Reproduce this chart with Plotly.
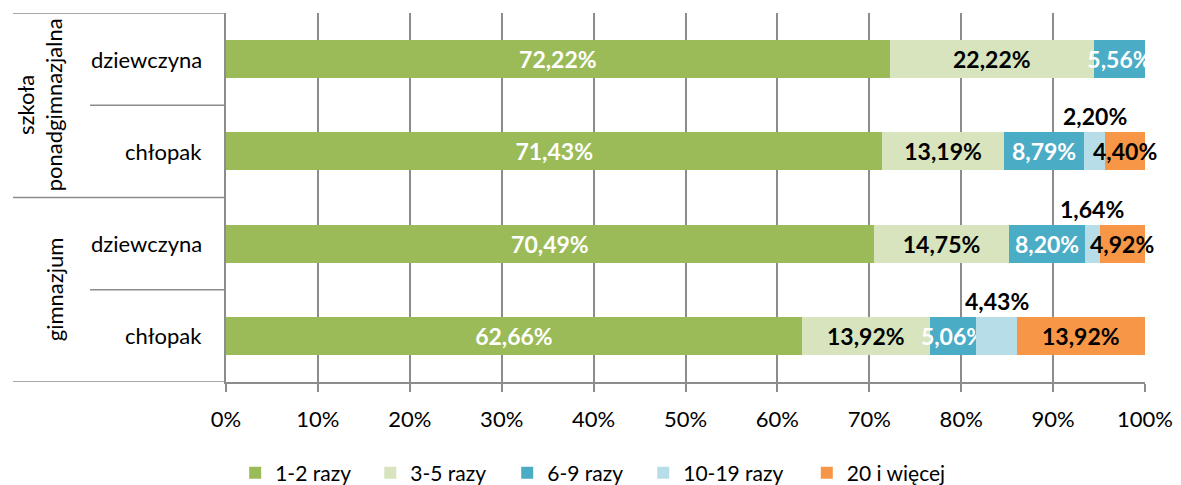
import plotly.graph_objects as go

# ---- data (bottom row first) ----
groups = ["gimnazjum", "gimnazjum", "szkoła<br>ponadgimnazjalna", "szkoła<br>ponadgimnazjalna"]
genders = ["chłopak", "dziewczyna", "chłopak", "dziewczyna"]
series_names = ["1-2 razy", "3-5 razy", "6-9 razy", "10-19 razy", "20 i więcej"]
v_1_2 = [62.66, 70.49, 71.43, 72.22]
v_3_5 = [13.92, 14.75, 13.19, 22.22]
v_6_9 = [5.06, 8.20, 8.79, 5.56]
v_10_19 = [4.43, 1.64, 2.20, 0.0]
v_20 = [13.92, 4.92, 4.40, 0.0]
x_ticks = [0, 10, 20, 30, 40, 50, 60, 70, 80, 90, 100]

colors = ["#9BBB59", "#D7E4BD", "#4BACC6", "#B7DEE8", "#F79646"]
text_colors = ["white", "black", "white", "black", "black"]
FONT = "Lato, 'Open Sans', sans-serif"
FS = 22
FSB = 23

# legend entry left edges (paper fraction of plot width)
legend_x = [0.010, 0.157, 0.306, 0.454, 0.632]
legend_ids = ["legend", "legend2", "legend3", "legend4", "legend5"]

cats = [f"{g}|{s}" for g, s in zip(groups, genders)]
values = [v_1_2, v_3_5, v_6_9, v_10_19, v_20]

def fmt(v):
    return ("%.2f%%" % v).replace(".", ",")

fig = go.Figure()
for i, (name, vals) in enumerate(zip(series_names, values)):
    if i in (3, 4):
        texts = ["" for v in vals]  # drawn as annotations below
    else:
        texts = [fmt(v) if v > 0 else "" for v in vals]
    fig.add_trace(go.Bar(
        y=cats, x=vals, name=name, orientation="h", legend=legend_ids[i],
        marker=dict(color=colors[i], line=dict(width=0)),
        text=texts, textposition="inside", insidetextanchor="middle",
        textangle=0, constraintext="none", cliponaxis=False,
        textfont=dict(family=FONT, size=FSB, color=text_colors[i], weight="bold"),
        hoverinfo="skip",
    ))

# 10-19 labels above the bars, 20+ labels centred on their segments
for j, c in enumerate(cats):
    start = v_1_2[j] + v_3_5[j] + v_6_9[j]
    v = v_10_19[j]
    if v > 0:
        fig.add_annotation(x=start + v / 2, y=c, xref="x", yref="y",
                           text=fmt(v), showarrow=False, yshift=35,
                           font=dict(family=FONT, size=FSB, color="black", weight="bold"))
    w = v_20[j]
    if w > 0:
        s2 = start + v
        fig.add_annotation(x=s2 + w / 2, y=c, xref="x", yref="y",
                           text=fmt(w), showarrow=False,
                           font=dict(family=FONT, size=FSB, color=text_colors[4], weight="bold"))

# gender labels
for j, c in enumerate(cats):
    fig.add_annotation(x=0, y=c, xref="paper", yref="y", xanchor="right", xshift=-22,
                       text=genders[j], showarrow=False,
                       font=dict(family=FONT, size=FS, color="black"))

# group labels
uniq = []
for g in groups:
    if g not in uniq:
        uniq.append(g)
for g in uniq:
    idx = [k for k, gg in enumerate(groups) if gg == g]
    ymid = sum(idx) / len(idx)
    fig.add_annotation(x=0, y=ymid, xref="paper", yref="y", xanchor="right",
                       xshift=-156, text=g, textangle=-90, showarrow=False,
                       font=dict(family=FONT, size=FS, color="black"))

# divider lines in label area
line_col = "#8C8C8C"
n = len(cats)
for b in range(n + 1):
    yb = b - 0.5
    is_outer = (b == 0 or b == n or (0 < b < n and groups[b] != groups[b - 1]))
    x0 = -213 if is_outer else -136
    fig.add_shape(type="line", xref="paper", yref="y", xsizemode="pixel", xanchor=0,
                  x0=x0, x1=0, y0=yb, y1=yb, line=dict(color=line_col, width=1.5))

legend_layout = {}
for lid, lx in zip(legend_ids, legend_x):
    legend_layout[lid] = dict(orientation="h", x=lx, xanchor="left", y=-0.247,
                              yanchor="middle", font=dict(family=FONT, size=21),
                              bgcolor="rgba(0,0,0,0)", borderwidth=0)

# page body has an 8px default margin: size the figure to fit the window
fig.update_layout(
    barmode="stack", bargap=0.59,
    width=1173, height=477,
    margin=dict(l=218, r=36, t=5, b=103, autoexpand=False),
    paper_bgcolor="white", plot_bgcolor="white",
    font=dict(family=FONT, size=FS, color="black"),
    showlegend=True,
    **legend_layout,
)
fig.update_xaxes(range=[0, 100], tickvals=x_ticks,
                 ticktext=[f"{t}%" for t in x_ticks],
                 showgrid=True, gridcolor=line_col, gridwidth=1.5,
                 showline=True, linecolor=line_col, linewidth=1.5,
                 ticks="outside", ticklen=8, tickcolor=line_col, tickwidth=1.5,
                 ticklabelstandoff=9,
                 zeroline=False, tickfont=dict(family=FONT, size=FS), fixedrange=True,
                 automargin=False)
fig.update_yaxes(showticklabels=False, showgrid=False, showline=True, linecolor=line_col,
                 linewidth=1.5, ticks="", zeroline=False, range=[-0.5, n - 0.5],
                 categoryorder="array", categoryarray=cats, fixedrange=True,
                 automargin=False)

fig.write_html("out.html")
